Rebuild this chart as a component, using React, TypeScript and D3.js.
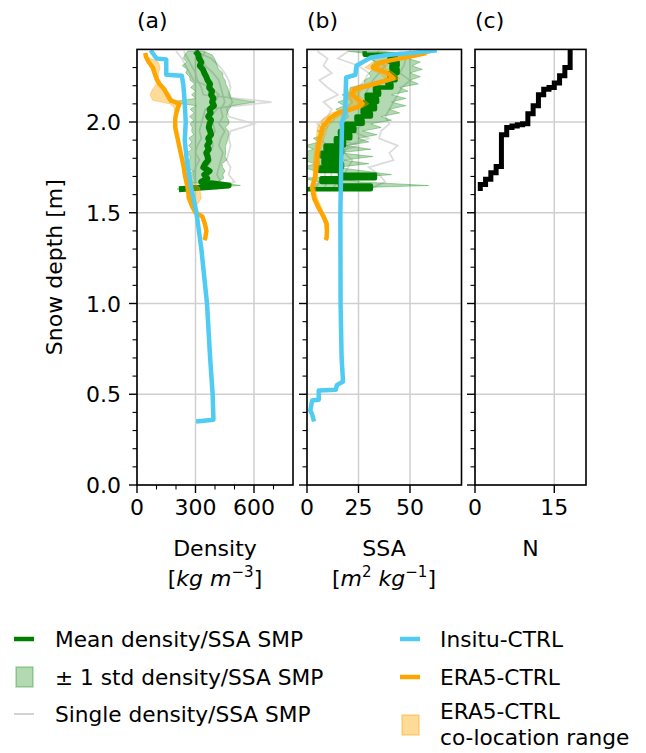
import React from "react";
import * as d3 from "d3";

// ---------- data ----------
const SMP_DEPTH = [2.39, 2.37, 2.35, 2.33, 2.31, 2.29, 2.27, 2.25, 2.23, 2.21, 2.19, 2.17, 2.15, 2.13, 2.11, 2.09, 2.07, 2.05, 2.03, 2.01, 1.99, 1.97, 1.95, 1.93, 1.91, 1.89, 1.87, 1.85, 1.83, 1.81, 1.79, 1.77, 1.75, 1.73, 1.71, 1.69, 1.67, 1.65, 1.63];
const SMP_DENSITY_MEAN = [300, 315, 318, 330, 322, 338, 345, 355, 362, 375, 370, 385, 380, 392, 385, 395, 372, 378, 365, 380, 372, 368, 375, 380, 365, 372, 360, 368, 355, 362, 365, 350, 340, 372, 345, 360, 330, 470, 215];
const SMP_DENSITY_STD = [40, 70, 80, 75, 90, 80, 95, 85, 90, 80, 95, 85, 100, 90, 220, 90, 100, 85, 95, 90, 100, 85, 95, 90, 100, 90, 95, 85, 100, 90, 95, 85, 100, 80, 95, 85, 80, 60, 10];
const SMP_SSA_MEAN = [28, 43, 40, 44, 41, 44, 40, 43, 39, 41, 33, 35, 29, 34, 28, 33, 27, 31, 24, 27, 19, 23, 16, 21, 14, 18, 9, 17, 7, 16, 8, 17, 6, 16, 33, 7, 16, 31, 0];
const SMP_SSA_STD = [8, 10, 9, 11, 10, 12, 10, 12, 11, 13, 12, 14, 12, 14, 13, 15, 13, 14, 12, 14, 12, 13, 11, 13, 11, 12, 10, 14, 9, 16, 10, 13, 8, 12, 8, 9, 10, 28, 2];

const SINGLE_DEPTH = [2.39, 2.35, 2.31, 2.27, 2.23, 2.19, 2.15, 2.11, 2.07, 2.03, 1.99, 1.95, 1.91, 1.87, 1.83, 1.79, 1.75, 1.71, 1.67, 1.63];
const SINGLE_DENSITY_1 = [240, 260, 280, 300, 310, 330, 340, 690, 350, 340, 330, 320, 330, 310, 300, 320, 300, 290, 300, 270];
const SINGLE_DENSITY_2 = [300, 380, 420, 450, 470, 480, 470, 490, 460, 470, 600, 480, 470, 480, 470, 460, 480, 470, 500, 400];
const SINGLE_DENSITY_3 = [200, 230, 250, 270, 290, 380, 420, 400, 410, 380, 390, 400, 380, 390, 370, 380, 360, 370, 350, 300];
const SINGLE_DENSITY_4 = [350, 330, 350, 390, 420, 430, 440, 450, 430, 440, 420, 450, 430, 420, 440, 430, 420, 410, 430, 380];
const SINGLE_SSA_1 = [5, 10, 8, 12, 6, 10, 15, 8, 12, 10, 5, 8, 6, 10, 8, 5, 7, 9, 6, 4];
const SINGLE_SSA_2 = [45, 48, 47, 45, 50, 46, 44, 42, 40, 38, 40, 36, 35, 44, 40, 42, 30, 35, 38, 30];
const SINGLE_SSA_3 = [20, 15, 25, 30, 28, 25, 20, 22, 18, 20, 16, 18, 14, 25, 12, 15, 10, 12, 10, 8];
const SINGLE_SSA_4 = [35, 30, 38, 35, 32, 30, 28, 35, 30, 25, 28, 22, 30, 20, 18, 22, 20, 18, 15, 12];

const INSITU_DENSITY_DEPTH = [2.395, 2.35, 2.345, 2.26, 2.255, 2.2, 2.1, 2.0, 1.9, 1.79, 1.625, 1.5, 1.3, 1.0, 0.7, 0.5, 0.36, 0.35];
const INSITU_DENSITY = [70, 100, 150, 150, 230, 238, 245, 250, 245, 255, 280, 305, 330, 359, 375, 388, 392, 303];
const INSITU_SSA_DEPTH = [2.395, 2.385, 2.37, 2.355, 2.33, 2.31, 2.26, 2.245, 2.05, 2.0, 1.5, 1.0, 0.7, 0.57, 0.55, 0.525, 0.52, 0.47, 0.465, 0.41, 0.39, 0.35];
const INSITU_SSA = [63, 55, 40, 31, 27, 24, 23.5, 19, 18.5, 17, 16.2, 16.3, 16.8, 17.5, 14.5, 14, 5.7, 5.7, 2.5, 1.6, 2.5, 3.4];

const ERA5_DEPTH = [2.38, 2.36, 2.33, 2.3, 2.27, 2.24, 2.21, 2.18, 2.15, 2.12, 2.1, 2.08, 2.05, 2.02, 1.97, 1.9, 1.83, 1.76, 1.7, 1.64, 1.58, 1.53, 1.5, 1.48, 1.44, 1.4, 1.36, 1.35];
const ERA5_DENSITY = [42, 46, 60, 82, 90, 100, 115, 140, 155, 172, 218, 210, 202, 196, 196, 210, 224, 238, 247, 260, 268, 285, 300, 335, 348, 356, 350, 345];
const ERA5_DENSITY_LO = [40, 44, 55, 70, 80, 90, 100, 80, 67, 80, 170, 190, 195, 190, 190, 205, 218, 232, 240, 250, 255, 275, 295, 325, 340, 350, 345, 340];
const ERA5_DENSITY_HI = [45, 50, 110, 118, 110, 110, 125, 150, 170, 185, 225, 215, 208, 202, 202, 215, 230, 243, 252, 320, 330, 300, 305, 340, 355, 362, 355, 350];
const ERA5_SSA = [58, 50, 36, 32, 39, 42, 33, 23, 22, 25, 27, 24, 15, 11, 7.5, 6, 5, 4.5, 4, 2.5, 3.5, 5.5, 7, 8, 9.5, 9.7, 9.5, 9];
const ERA5_SSA_LO = [55, 47, 32, 28, 35, 38, 28, 20, 18, 20, 22, 20, 12, 8, 5, 4.5, 3.5, 3, 3, 2, 2.5, 4.5, 6, 7, 8.5, 9, 9, 8.5];
const ERA5_SSA_HI = [60, 53, 40, 38, 42, 45, 36, 27, 25, 28, 30, 27, 19, 14, 10, 8, 6.5, 6, 5, 4, 5, 7, 8, 9, 10.5, 10.5, 10, 9.5];

const N_DEPTH = [1.62, 1.655, 1.685, 1.72, 1.755, 1.93, 1.97, 1.978, 1.985, 1.99, 2.045, 2.09, 2.15, 2.18, 2.19, 2.215, 2.255, 2.3, 2.4];
const N_COUNT = [1, 2, 3, 4, 5, 6, 7, 8, 9, 10, 11, 12, 13, 14, 15, 16, 17, 18, 18];

const DEPTH_TICKS = [0, 0.5, 1.0, 1.5, 2.0];
const DENSITY_TICKS = [0, 300, 600];
const SSA_TICKS = [0, 25, 50];
const N_TICKS = [0, 15];

// ---------- style ----------
const FONT = "DejaVu Sans";
const C_MEAN = "#008000";
const C_INSITU = "#50CBF2";
const C_ERA5 = "#FFA500";
const C_GRID = "#cfcfcf";

type Pt = [number, number];
const zip = (v: number[], d: number[]): Pt[] => v.map((val, i) => [val, d[i]]);

export default function App() {
  const yScale = d3.scaleLinear().domain([0, 2.4]).range([485, 49.4]);
  const [yBottom, yTop] = [yScale(0), yScale(2.4)];

  const panels = [
    { id: "a", title: "(a)", x: d3.scaleLinear().domain([0, 800]).range([137, 293]), ticks: DENSITY_TICKS, minor: d3.range(100, 800, 100).filter((v) => v % 300 !== 0) },
    { id: "b", title: "(b)", x: d3.scaleLinear().domain([0, 75]).range([307, 461.5]), ticks: SSA_TICKS, minor: [] as number[] },
    { id: "c", title: "(c)", x: d3.scaleLinear().domain([0, 21]).range([475, 586]), ticks: N_TICKS, minor: [] as number[] },
  ];

  const minorY = d3.range(1, 24).map((i) => i / 10).filter((v) => Math.abs(v * 2 - Math.round(v * 2)) > 1e-6);

  const profile = (xs: d3.ScaleLinear<number, number>, curve: d3.CurveFactory) =>
    d3.line<Pt>().x((p) => xs(p[0])).y((p) => yScale(p[1])).curve(curve);

  const band = (xs: d3.ScaleLinear<number, number>, lo: number[], hi: number[], depth: number[], curve: d3.CurveFactory) =>
    d3.area<number>()
      .y((_, i) => yScale(depth[i]))
      .x0((_, i) => xs(lo[i]))
      .x1((_, i) => xs(hi[i]))
      .curve(curve)(depth.map((_, i) => i)) as string;

  const renderData = (id: string, xs: d3.ScaleLinear<number, number>) => {
    if (id === "c") {
      return (
        <path d={profile(xs, d3.curveStepBefore)(zip(N_COUNT, N_DEPTH)) as string} fill="none" stroke="#000" strokeWidth={5} strokeLinejoin="miter" />
      );
    }
    const isD = id === "a";
    const singles = isD
      ? [SINGLE_DENSITY_1, SINGLE_DENSITY_2, SINGLE_DENSITY_3, SINGLE_DENSITY_4]
      : [SINGLE_SSA_1, SINGLE_SSA_2, SINGLE_SSA_3, SINGLE_SSA_4];
    const mean = isD ? SMP_DENSITY_MEAN : SMP_SSA_MEAN;
    const std = isD ? SMP_DENSITY_STD : SMP_SSA_STD;
    const lo = mean.map((m, i) => m - std[i]);
    const hi = mean.map((m, i) => m + std[i]);
    const era = isD ? ERA5_DENSITY : ERA5_SSA;
    const eraLo = isD ? ERA5_DENSITY_LO : ERA5_SSA_LO;
    const eraHi = isD ? ERA5_DENSITY_HI : ERA5_SSA_HI;
    const ins = isD ? INSITU_DENSITY : INSITU_SSA;
    const insD = isD ? INSITU_DENSITY_DEPTH : INSITU_SSA_DEPTH;
    return (
      <g>
        {singles.map((s, k) => (
          <path key={k} d={profile(xs, d3.curveLinear)(zip(s, SINGLE_DEPTH)) as string} fill="none" stroke="#d3d3d3" strokeOpacity={0.8} strokeWidth={1.8} />
        ))}
        <path d={band(xs, lo, hi, SMP_DEPTH, d3.curveLinear)} fill="green" fillOpacity={0.3} stroke="green" strokeOpacity={0.3} strokeWidth={1} />
        <path d={profile(xs, isD ? d3.curveLinear : d3.curveStepBefore)(zip(mean, SMP_DEPTH)) as string} fill="none" stroke={C_MEAN} strokeWidth={isD ? 6 : 4.5} strokeLinejoin="round" />
        <path d={band(xs, eraLo, eraHi, ERA5_DEPTH, d3.curveLinear)} fill={C_ERA5} fillOpacity={0.4} stroke={C_ERA5} strokeOpacity={0.4} strokeWidth={1} />
        <path d={profile(xs, d3.curveLinear)(zip(era, ERA5_DEPTH)) as string} fill="none" stroke={C_ERA5} strokeWidth={4.5} strokeLinejoin="round" />
        <path d={profile(xs, d3.curveLinear)(zip(ins, insD)) as string} fill="none" stroke={C_INSITU} strokeWidth={4.5} strokeLinejoin="round" />
      </g>
    );
  };

  const fs = 22;

  return (
    <svg width={646} height={753} style={{ position: "absolute", left: 0, top: 0, background: "#fff" }} fontFamily={FONT}>
      <rect width={646} height={753} fill="#fff" />
      <defs>
        {panels.map((p) => (
          <clipPath id={`clip-${p.id}`} key={p.id}>
            <rect x={p.x.range()[0]} y={yTop} width={p.x.range()[1] - p.x.range()[0]} height={yBottom - yTop} />
          </clipPath>
        ))}
      </defs>

      {panels.map((p) => {
        const [x0, x1] = p.x.range();
        return (
          <g key={p.id}>
            {/* grid */}
            {DEPTH_TICKS.map((t) => (
              <line key={`gy${t}`} x1={x0} x2={x1} y1={yScale(t)} y2={yScale(t)} stroke={C_GRID} strokeWidth={1.5} />
            ))}
            {p.ticks.map((t) => (
              <line key={`gx${t}`} x1={p.x(t)} x2={p.x(t)} y1={yTop} y2={yBottom} stroke={C_GRID} strokeWidth={1.5} />
            ))}
            <g clipPath={`url(#clip-${p.id})`}>{renderData(p.id, p.x)}</g>
            {/* frame */}
            <rect x={x0} y={yTop} width={x1 - x0} height={yBottom - yTop} fill="none" stroke="#000" strokeWidth={1.6} />
            {/* y ticks */}
            {DEPTH_TICKS.map((t) => (
              <line key={`yt${t}`} x1={x0 - 8} x2={x0} y1={yScale(t)} y2={yScale(t)} stroke="#000" strokeWidth={1.4} />
            ))}
            {minorY.map((t) => (
              <line key={`ym${t}`} x1={x0 - 4.5} x2={x0} y1={yScale(t)} y2={yScale(t)} stroke="#000" strokeWidth={1.1} />
            ))}
            {/* x ticks */}
            {p.ticks.map((t) => (
              <g key={`xt${t}`}>
                <line x1={p.x(t)} x2={p.x(t)} y1={yBottom} y2={yBottom + 8} stroke="#000" strokeWidth={1.4} />
                <text x={p.x(t)} y={yBottom + 30} textAnchor="middle" fontSize={fs}>{t}</text>
              </g>
            ))}
            {p.minor.map((t) => (
              <line key={`xm${t}`} x1={p.x(t)} x2={p.x(t)} y1={yBottom} y2={yBottom + 4.5} stroke="#000" strokeWidth={1.1} />
            ))}
            <text x={x0} y={28} fontSize={fs}>{p.title}</text>
          </g>
        );
      })}

      {/* y tick labels */}
      {DEPTH_TICKS.map((t) => (
        <text key={`yl${t}`} x={121} y={yScale(t) + 8} textAnchor="end" fontSize={fs}>{t.toFixed(1)}</text>
      ))}
      <text transform={`translate(62, ${(yTop + yBottom) / 2}) rotate(-90)`} textAnchor="middle" fontSize={fs}>Snow depth [m]</text>

      {/* x labels */}
      <text x={215} y={556} textAnchor="middle" fontSize={fs}>Density</text>
      <text x={215} y={586} textAnchor="middle" fontSize={fs}>
        [<tspan fontStyle="italic">kg m</tspan><tspan dy={-9} fontSize={15}>−3</tspan><tspan dy={9}>]</tspan>
      </text>
      <text x={384} y={556} textAnchor="middle" fontSize={fs}>SSA</text>
      <text x={384} y={586} textAnchor="middle" fontSize={fs}>
        [<tspan fontStyle="italic">m</tspan><tspan dy={-9} fontSize={15}>2</tspan><tspan dy={9} fontStyle="italic"> kg</tspan><tspan dy={-9} fontSize={15}>−1</tspan><tspan dy={9}>]</tspan>
      </text>
      <text x={530.5} y={556} textAnchor="middle" fontSize={fs}>N</text>

      {/* legend */}
      <g fontSize={21.7}>
        <line x1={14} x2={34} y1={639} y2={639} stroke={C_MEAN} strokeWidth={4.5} />
        <text x={55} y={647}>Mean density/SSA SMP</text>
        <rect x={16} y={667} width={17} height={20} fill="green" fillOpacity={0.3} stroke="green" strokeOpacity={0.3} strokeWidth={1.5} />
        <text x={55} y={685}>± 1 std density/SSA SMP</text>
        <line x1={14} x2={34} y1={714} y2={714} stroke="#d3d3d3" strokeWidth={2} />
        <text x={55} y={722}>Single density/SSA SMP</text>

        <line x1={400} x2={420} y1={639} y2={639} stroke={C_INSITU} strokeWidth={4.5} />
        <text x={440} y={647}>Insitu-CTRL</text>
        <line x1={400} x2={420} y1={677} y2={677} stroke={C_ERA5} strokeWidth={4.5} />
        <text x={440} y={685}>ERA5-CTRL</text>
        <rect x={402} y={715} width={17} height={20} fill={C_ERA5} fillOpacity={0.4} stroke={C_ERA5} strokeOpacity={0.4} strokeWidth={1.5} />
        <text x={440} y={719}>ERA5-CTRL</text>
        <text x={440} y={745}>co-location range</text>
      </g>
    </svg>
  );
}
